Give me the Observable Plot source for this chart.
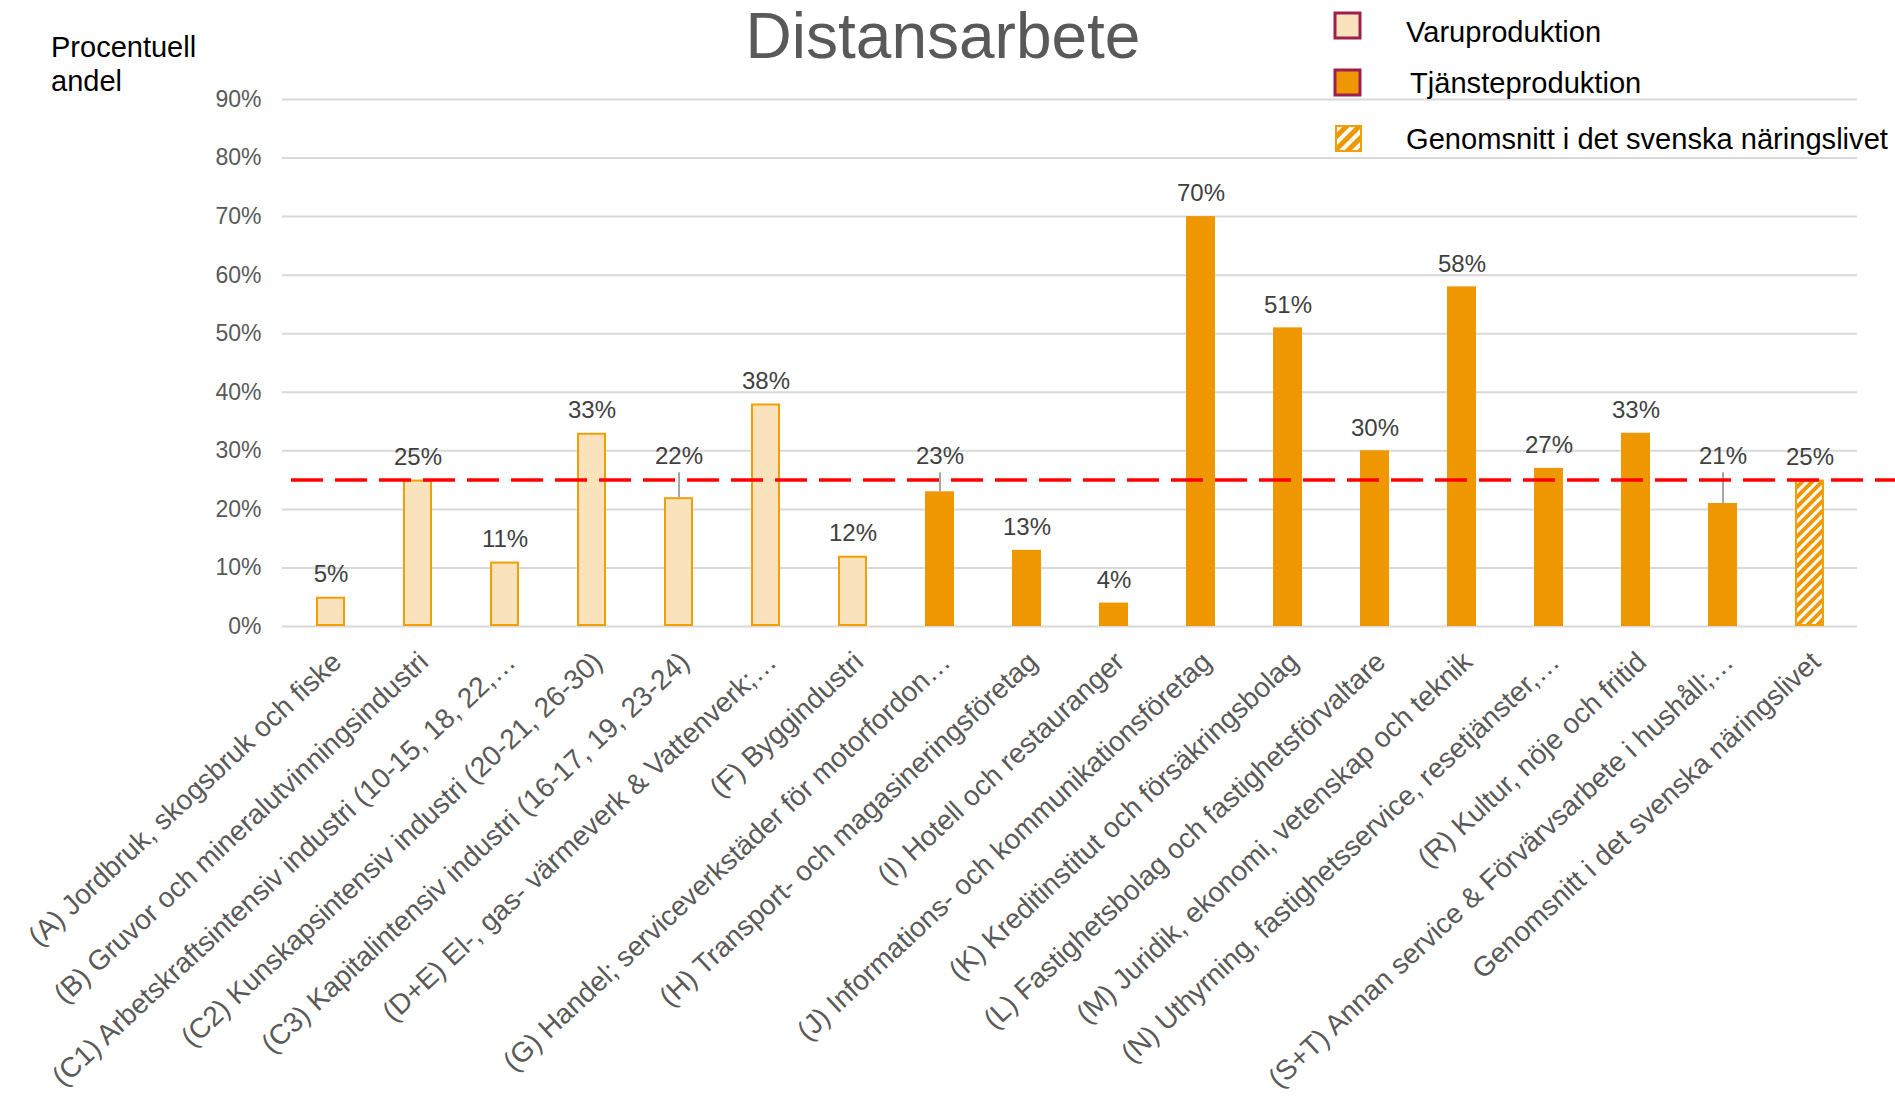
<!DOCTYPE html>
<html>
<head>
<meta charset="utf-8">
<script src="https://cdn.jsdelivr.net/npm/d3@7"></script>
<script src="https://cdn.jsdelivr.net/npm/@observablehq/plot@0.6"></script>
<style>
  html, body { margin: 0; padding: 0; background: #ffffff; }
  body { font-family: "Liberation Sans", Arial, sans-serif; }
  #wrap { position: relative; width: 1895px; height: 1106px; overflow: hidden; }
  #overlay { position: absolute; left: 0; top: 0; pointer-events: none; }
  #chart svg { display: block; }
</style>
</head>
<body>
<div id="wrap">
  <div id="chart"></div>
  <svg id="overlay" width="1895" height="1106"></svg>
</div>
<script>
// ---------------- data ----------------
const categories = [
  "(A) Jordbruk, skogsbruk och fiske",
  "(B) Gruvor och mineralutvinningsindustri",
  "(C1) Arbetskraftsintensiv industri (10-15, 18, 22,…",
  "(C2) Kunskapsintensiv industri (20-21, 26-30)",
  "(C3) Kapitalintensiv industri (16-17, 19, 23-24)",
  "(D+E) El-, gas- värmeverk & Vattenverk;…",
  "(F) Byggindustri",
  "(G) Handel; serviceverkstäder för motorfordon…",
  "(H) Transport- och magasineringsföretag",
  "(I) Hotell och restauranger",
  "(J) Informations- och kommunikationsföretag",
  "(K) Kreditinstitut och försäkringsbolag",
  "(L) Fastighetsbolag och fastighetsförvaltare",
  "(M) Juridik, ekonomi, vetenskap och teknik",
  "(N) Uthyrning, fastighetsservice, resetjänster,…",
  "(R) Kultur, nöje och fritid",
  "(S+T) Annan service & Förvärvsarbete i hushåll;…",
  "Genomsnitt i det svenska näringslivet"
];
const values = [5, 25, 11, 33, 22, 38, 12, 23, 13, 4, 70, 51, 30, 58, 27, 33, 21, 25];
const groups = [
  "Varuproduktion", "Varuproduktion", "Varuproduktion", "Varuproduktion",
  "Varuproduktion", "Varuproduktion", "Varuproduktion",
  "Tjänsteproduktion", "Tjänsteproduktion", "Tjänsteproduktion", "Tjänsteproduktion",
  "Tjänsteproduktion", "Tjänsteproduktion", "Tjänsteproduktion", "Tjänsteproduktion",
  "Tjänsteproduktion", "Tjänsteproduktion",
  "Genomsnitt i det svenska näringslivet"
];
const average = 25;
const yTicks = [0, 10, 20, 30, 40, 50, 60, 70, 80, 90];
const legendLabels = ["Varuproduktion", "Tjänsteproduktion", "Genomsnitt i det svenska näringslivet"];
const titleText = "Distansarbete";
const yLabelLines = ["Procentuell", "andel"];

// ---------------- styles ----------------
const FONT = "Liberation Sans, Arial, sans-serif";
const LIGHT = "#FAE3BC";
const ORANGE = "#EE9700";
const EDGE = "#F29F05";
const HATCH_EDGE = "#F29F06";
const MAROON = "#9E1F4E";

const data = categories.map((c, i) => ({category: c, value: values[i], group: groups[i]}));
const varu = data.filter(d => d.group === legendLabels[0]);
const tjanst = data.filter(d => d.group === legendLabels[1]);
const snitt = data.filter(d => d.group === legendLabels[2]);
// labels that would collide with the average line are lifted above it with a leader line
const isLeader = d => d.value < average && d.value > average - 6;
const leaderLevel = average + 4;
const leaders = data.filter(isLeader);
const plain = data.filter(d => !isLeader(d));

const plot = Plot.plot({
  width: 1895,
  height: 1106,
  marginLeft: 282,
  marginRight: 38,
  marginTop: 99,
  marginBottom: 480,
  style: {fontFamily: FONT, background: "transparent", overflow: "visible"},
  x: {domain: categories, paddingInner: 0.67, paddingOuter: 0.335, axis: null},
  y: {domain: [0, 90], axis: null},
  marks: [
    Plot.ruleY(yTicks, {stroke: "#D9D9D9", strokeWidth: 2}),
    Plot.text(yTicks, {y: d => d, text: d => d + "%", frameAnchor: "left", textAnchor: "end", dx: -21,
      fontSize: 23, fill: "#595959", lineAnchor: "middle"}),
    Plot.barY(varu, {x: "category", y: "value", fill: LIGHT, stroke: EDGE, strokeWidth: 2, inset: 1}),
    Plot.barY(tjanst, {x: "category", y: "value", fill: ORANGE}),
    Plot.barY(snitt, {x: "category", y: "value", fill: ORANGE, stroke: HATCH_EDGE, strokeWidth: 2, inset: 1}),
    Plot.ruleX(leaders, {x: "category", y1: () => leaderLevel, y2: "value", insetTop: 16, stroke: "#A6A6A6", strokeWidth: 2}),
    Plot.ruleY([average], {stroke: "#FF0000", strokeWidth: 3.5, strokeDasharray: "32,12", insetLeft: 9, insetRight: -38}),
    Plot.text(plain, {x: "category", y: "value", text: d => d.value + "%", dy: -23, fontSize: 24, fill: "#404040", lineAnchor: "middle"}),
    Plot.text(leaders, {x: "category", y: () => leaderLevel, text: d => d.value + "%", fontSize: 24, fill: "#404040", lineAnchor: "middle"}),
    Plot.text(categories, {x: d => d, frameAnchor: "bottom", textAnchor: "end", lineAnchor: "middle",
      rotate: -43, dx: 6, dy: 31, fontSize: 28, fill: "#595959"})
  ]
});
document.getElementById("chart").appendChild(plot);

// hatch pattern for the average bar
const svg = d3.select(plot);
const defs = svg.insert("defs", ":first-child");
const pat = defs.append("pattern").attr("id", "hatch").attr("patternUnits", "userSpaceOnUse")
  .attr("width", 7).attr("height", 7).attr("patternTransform", "rotate(45)");
pat.append("rect").attr("width", 7).attr("height", 7).attr("fill", ORANGE);
pat.append("rect").attr("width", 3).attr("height", 7).attr("fill", "#ffffff");
svg.selectAll("g").filter(function () {
  const s = (this.getAttribute("stroke") || "").toLowerCase();
  return s === HATCH_EDGE.toLowerCase();
}).selectAll("rect").attr("fill", "url(#hatch)").style("fill", "url(#hatch)");

// ---------------- overlay: title, axis title, legend ----------------
const ov = d3.select("#overlay");
const odefs = ov.append("defs");
const pat2 = odefs.append("pattern").attr("id", "hatch2").attr("patternUnits", "userSpaceOnUse")
  .attr("width", 9).attr("height", 9).attr("patternTransform", "rotate(45)");
pat2.append("rect").attr("width", 9).attr("height", 9).attr("fill", ORANGE);
pat2.append("rect").attr("width", 4).attr("height", 9).attr("fill", "#ffffff");

ov.append("text").attr("x", 943).attr("y", 58).attr("text-anchor", "middle")
  .attr("font-family", FONT).attr("font-size", 64).attr("fill", "#595959").text(titleText);

yLabelLines.forEach((t, i) => {
  ov.append("text").attr("x", 51).attr("y", 57 + i * 34)
    .attr("font-family", FONT).attr("font-size", 29).attr("fill", "#000000").text(t);
});

const legendStyles = [
  {fill: LIGHT, stroke: MAROON, sw: 3, x: 1335, y: 13, tx: 1406, ty: 42},
  {fill: ORANGE, stroke: MAROON, sw: 3, x: 1335, y: 70, tx: 1410, ty: 93},
  {fill: "url(#hatch2)", stroke: EDGE, sw: 2, x: 1336, y: 126, tx: 1406, ty: 149}
];
legendLabels.forEach((t, i) => {
  const s = legendStyles[i];
  ov.append("rect").attr("x", s.x).attr("y", s.y).attr("width", 25).attr("height", 25)
    .attr("fill", s.fill).attr("stroke", s.stroke).attr("stroke-width", s.sw);
  ov.append("text").attr("x", s.tx).attr("y", s.ty)
    .attr("font-family", FONT).attr("font-size", 29.1).attr("fill", "#000000").text(t);
});
</script>
</body>
</html>
